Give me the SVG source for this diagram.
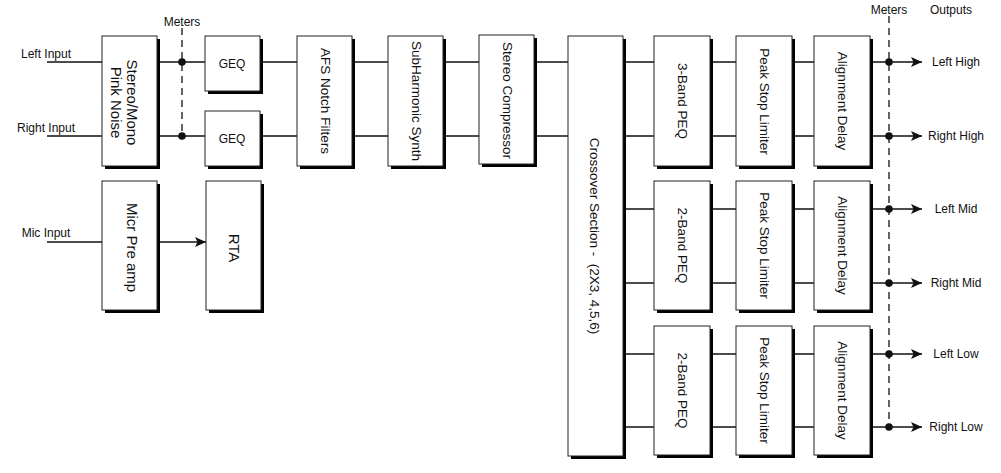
<svg xmlns="http://www.w3.org/2000/svg" width="1001" height="473" viewBox="0 0 1001 473">
<defs>
<style>
.sh{fill:#000}
.bx{fill:#fff;stroke:#222;stroke-width:1}
.ln{stroke:#111;stroke-width:1.3;fill:none}
.ds{stroke:#111;stroke-width:1.3;fill:none;stroke-dasharray:7,5}
.t{font-family:"Liberation Sans",Arial,sans-serif;font-size:12px;fill:#111}
.v{font-family:"Liberation Sans",Arial,sans-serif;font-size:13.5px;fill:#111;text-anchor:middle}
.vl{font-size:15px}
.c{text-anchor:middle}
</style>
<marker id="ar" markerWidth="12" markerHeight="10" refX="11" refY="5" orient="auto" markerUnits="userSpaceOnUse">
<path d="M0,0 L11,5 L0,10 L2.5,5 Z" fill="#111"/>
</marker>
</defs>
<rect width="1001" height="473" fill="#fff"/>

<g id="connectors">
<path class="ln" d="M47,62H102M157,62H205M260,62H297M352,62H388M443,62H479M534,62H568M623,62H654M710,62H736M792,62H814"/>
<path class="ln" d="M47,136H102M157,136H205M260,136H297M352,136H388M443,136H479M534,136H568M623,136H654M710,136H736M792,136H814"/>
<path class="ln" d="M623,209H654M710,209H736M792,209H814M623,283H654M710,283H736M792,283H814"/>
<path class="ln" d="M623,354H654M710,354H736M792,354H814M623,427H654M710,427H736M792,427H814"/>
<path class="ln" d="M47,242H102"/>
<line class="ln" x1="157" y1="242" x2="206" y2="242" marker-end="url(#ar)"/>
<line class="ln" x1="870" y1="62" x2="922" y2="62" marker-end="url(#ar)"/>
<line class="ln" x1="870" y1="136" x2="922" y2="136" marker-end="url(#ar)"/>
<line class="ln" x1="870" y1="209" x2="922" y2="209" marker-end="url(#ar)"/>
<line class="ln" x1="870" y1="283" x2="922" y2="283" marker-end="url(#ar)"/>
<line class="ln" x1="870" y1="354" x2="922" y2="354" marker-end="url(#ar)"/>
<line class="ln" x1="870" y1="427" x2="922" y2="427" marker-end="url(#ar)"/>
<line class="ds" x1="182" y1="28" x2="182" y2="136"/>
<line class="ds" x1="889" y1="16" x2="889" y2="427"/>
<g fill="#111">
<circle cx="182" cy="62" r="3.8"/><circle cx="182" cy="136" r="3.8"/>
<circle cx="889" cy="62" r="3.8"/><circle cx="889" cy="136" r="3.8"/>
<circle cx="889" cy="209" r="3.8"/><circle cx="889" cy="283" r="3.8"/>
<circle cx="889" cy="354" r="3.8"/><circle cx="889" cy="427" r="3.8"/>
</g>
</g>

<g id="labels">
<text class="t c" x="46" y="58">Left Input</text>
<text class="t c" x="46" y="132">Right Input</text>
<text class="t c" x="46" y="237">Mic Input</text>
<text class="t c" x="182" y="26">Meters</text>
<text class="t c" x="889" y="14">Meters</text>
<text class="t c" x="951" y="14">Outputs</text>
<text class="t c" x="956" y="66">Left High</text>
<text class="t c" x="956" y="140">Right High</text>
<text class="t c" x="956" y="213">Left Mid</text>
<text class="t c" x="956" y="287">Right Mid</text>
<text class="t c" x="956" y="358">Left Low</text>
<text class="t c" x="956" y="431">Right Low</text>
</g>

<g id="noise"><rect class="sh" x="105" y="39" width="55" height="130"/><rect class="bx" x="102" y="36" width="55" height="130"/>
<text class="v vl" transform="translate(126.5,102.5) rotate(90)">Stereo/Mono</text>
<text class="v vl" transform="translate(111,102.5) rotate(90)">Pink Noise</text></g>
<g id="geq1"><rect class="sh" x="208" y="39" width="55" height="55"/><rect class="bx" x="205" y="36" width="55" height="55"/>
<text class="t c" x="232" y="68">GEQ</text></g>
<g id="geq2"><rect class="sh" x="208" y="114" width="55" height="55"/><rect class="bx" x="205" y="111" width="55" height="55"/>
<text class="t c" x="232" y="143">GEQ</text></g>
<g id="afs"><rect class="sh" x="300" y="39" width="55" height="130"/><rect class="bx" x="297" y="36" width="55" height="130"/>
<text class="v" transform="translate(321,101) rotate(90)">AFS Notch Filters</text></g>
<g id="sub"><rect class="sh" x="391" y="39" width="55" height="130"/><rect class="bx" x="388" y="36" width="55" height="130"/>
<text class="v" transform="translate(412,101) rotate(90)">SubHarmonic Synth</text></g>
<g id="comp"><rect class="sh" x="482" y="38" width="55" height="129"/><rect class="bx" x="479" y="35" width="55" height="129"/>
<text class="v" transform="translate(503,100.5) rotate(90)">Stereo Compressor</text></g>
<g id="mic"><rect class="sh" x="105" y="184" width="55" height="129"/><rect class="bx" x="102" y="181" width="55" height="129"/>
<text class="v vl" transform="translate(127,247.5) rotate(90)">Micr Pre amp</text></g>
<g id="rta"><rect class="sh" x="209" y="184" width="55" height="129"/><rect class="bx" x="206" y="181" width="55" height="129"/>
<text class="v vl" transform="translate(229,248) rotate(90)">RTA</text></g>
<g id="xover"><rect class="sh" x="571" y="39" width="55" height="420"/><rect class="bx" x="568" y="36" width="55" height="420"/>
<text class="v" transform="translate(590,236) rotate(90)" xml:space="preserve">Crossover Section -  (2X3, 4,5,6)</text></g>

<g id="peq1"><rect class="sh" x="657" y="39" width="56" height="130"/><rect class="bx" x="654" y="36" width="56" height="130"/>
<text class="v" transform="translate(678,101) rotate(90)">3-Band PEQ</text></g>
<g id="lim1"><rect class="sh" x="739" y="39" width="56" height="130"/><rect class="bx" x="736" y="36" width="56" height="130"/>
<text class="v" transform="translate(760,101.5) rotate(90)">Peak Stop Limiter</text></g>
<g id="dly1"><rect class="sh" x="817" y="39" width="56" height="130"/><rect class="bx" x="814" y="36" width="56" height="130"/>
<text class="v" transform="translate(838,101) rotate(90)">Alignment Delay</text></g>

<g id="peq2"><rect class="sh" x="657" y="184" width="56" height="129"/><rect class="bx" x="654" y="181" width="56" height="129"/>
<text class="v" transform="translate(678,245.5) rotate(90)">2-Band PEQ</text></g>
<g id="lim2"><rect class="sh" x="739" y="184" width="56" height="129"/><rect class="bx" x="736" y="181" width="56" height="129"/>
<text class="v" transform="translate(760,245.5) rotate(90)">Peak Stop Limiter</text></g>
<g id="dly2"><rect class="sh" x="817" y="184" width="56" height="129"/><rect class="bx" x="814" y="181" width="56" height="129"/>
<text class="v" transform="translate(838,245.5) rotate(90)">Alignment Delay</text></g>

<g id="peq3"><rect class="sh" x="657" y="329" width="56" height="129"/><rect class="bx" x="654" y="326" width="56" height="129"/>
<text class="v" transform="translate(678,390.5) rotate(90)">2-Band PEQ</text></g>
<g id="lim3"><rect class="sh" x="739" y="329" width="56" height="129"/><rect class="bx" x="736" y="326" width="56" height="129"/>
<text class="v" transform="translate(760,390.5) rotate(90)">Peak Stop Limiter</text></g>
<g id="dly3"><rect class="sh" x="817" y="329" width="56" height="129"/><rect class="bx" x="814" y="326" width="56" height="129"/>
<text class="v" transform="translate(838,390.5) rotate(90)">Alignment Delay</text></g>
</svg>
